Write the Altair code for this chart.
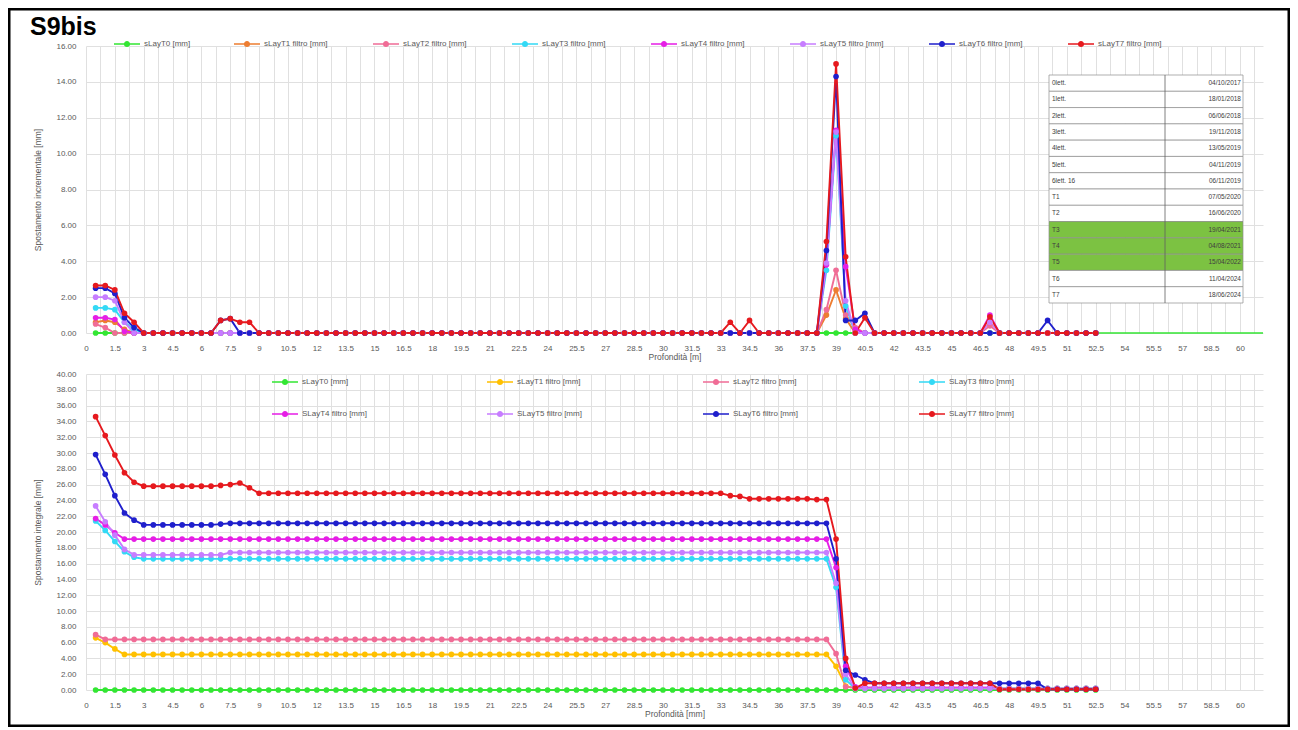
import altair as alt
import pandas as pd

# ---------------- data ----------------
DEPTH = [round(0.5 * i, 1) for i in range(1, 106)]  # 0.5 ... 52.5 m

TOP_NAMES = ["sLayT0 [mm]", "sLayT1 filtro  [mm]", "sLayT2 filtro  [mm]", "sLayT3 filtro  [mm]",
             "sLayT4 filtro  [mm]", "sLayT5 filtro  [mm]", "sLayT6 filtro  [mm]", "sLayT7 filtro  [mm]"]
BOT_NAMES = ["sLayT0 [mm]", "sLayT1 filtro  [mm]", "sLayT2 filtro  [mm]", "SLayT3 filtro [mm]",
             "SLayT4 filtro [mm]", "SLayT5 filtro [mm]", "SLayT6 filtro [mm]", "SLayT7 filtro [mm]"]
TOP_COLORS = ["#33e633", "#ed7d31", "#f06c96", "#33d9f5", "#e61ee6", "#c77dff", "#1f1fcc", "#e6191e"]
BOT_COLORS = ["#33e633", "#ffc000", "#f06c96", "#33d9f5", "#e61ee6", "#c77dff", "#1f1fcc", "#e6191e"]

# incremental displacement (top chart), 15 values per line = 7.5 m
INC_T0 = [
    0, 0, 0, 0, 0, 0, 0, 0, 0, 0, 0, 0, 0, 0, 0,
    0, 0, 0, 0, 0, 0, 0, 0, 0, 0, 0, 0, 0, 0, 0,
    0, 0, 0, 0, 0, 0, 0, 0, 0, 0, 0, 0, 0, 0, 0,
    0, 0, 0, 0, 0, 0, 0, 0, 0, 0, 0, 0, 0, 0, 0,
    0, 0, 0, 0, 0, 0, 0, 0, 0, 0, 0, 0, 0, 0, 0,
    0, 0, 0, 0, 0, 0, 0, 0, 0, 0, 0, 0, 0, 0, 0,
    0, 0, 0, 0, 0, 0, 0, 0, 0, 0, 0, 0, 0, 0, 0]
INC_T1 = [
    0.6, 0.7, 0.6, 0.2, 0, 0, 0, 0, 0, 0, 0, 0, 0, 0, 0,
    0, 0, 0, 0, 0, 0, 0, 0, 0, 0, 0, 0, 0, 0, 0,
    0, 0, 0, 0, 0, 0, 0, 0, 0, 0, 0, 0, 0, 0, 0,
    0, 0, 0, 0, 0, 0, 0, 0, 0, 0, 0, 0, 0, 0, 0,
    0, 0, 0, 0, 0, 0, 0, 0, 0, 0, 0, 0, 0, 0, 0,
    0, 1.0, 2.4, 0.8, 0, 0, 0, 0, 0, 0, 0, 0, 0, 0, 0,
    0, 0, 0, 0, 0, 0, 0, 0, 0, 0, 0, 0, 0, 0, 0]
INC_T2 = [
    0.5, 0.3, 0, 0, 0, 0, 0, 0, 0, 0, 0, 0, 0, 0, 0,
    0, 0, 0, 0, 0, 0, 0, 0, 0, 0, 0, 0, 0, 0, 0,
    0, 0, 0, 0, 0, 0, 0, 0, 0, 0, 0, 0, 0, 0, 0,
    0, 0, 0, 0, 0, 0, 0, 0, 0, 0, 0, 0, 0, 0, 0,
    0, 0, 0, 0, 0, 0, 0, 0, 0, 0, 0, 0, 0, 0, 0,
    0, 1.3, 3.5, 1.0, 0.3, 0, 0, 0, 0, 0, 0, 0, 0, 0, 0,
    0, 0, 0, 0.4, 0, 0, 0, 0, 0, 0, 0, 0, 0, 0, 0]
INC_T3 = [
    1.4, 1.4, 1.3, 0.6, 0.2, 0, 0, 0, 0, 0, 0, 0, 0, 0, 0,
    0, 0, 0, 0, 0, 0, 0, 0, 0, 0, 0, 0, 0, 0, 0,
    0, 0, 0, 0, 0, 0, 0, 0, 0, 0, 0, 0, 0, 0, 0,
    0, 0, 0, 0, 0, 0, 0, 0, 0, 0, 0, 0, 0, 0, 0,
    0, 0, 0, 0, 0, 0, 0, 0, 0, 0, 0, 0, 0, 0, 0,
    0, 3.5, 11.0, 1.5, 0, 0, 0, 0, 0, 0, 0, 0, 0, 0, 0,
    0, 0, 0, 0, 0, 0, 0, 0, 0, 0, 0, 0, 0, 0, 0]
INC_T4 = [
    0.85, 0.85, 0.75, 0.1, 0, 0, 0, 0, 0, 0, 0, 0, 0, 0, 0,
    0, 0, 0, 0, 0, 0, 0, 0, 0, 0, 0, 0, 0, 0, 0,
    0, 0, 0, 0, 0, 0, 0, 0, 0, 0, 0, 0, 0, 0, 0,
    0, 0, 0, 0, 0, 0, 0, 0, 0, 0, 0, 0, 0, 0, 0,
    0, 0, 0, 0, 0, 0, 0, 0, 0, 0, 0, 0, 0, 0, 0,
    0, 3.8, 11.3, 3.7, 0.2, 0, 0, 0, 0, 0, 0, 0, 0, 0, 0,
    0, 0, 0, 1.0, 0, 0, 0, 0, 0, 0, 0, 0, 0, 0, 0]
INC_T5 = [
    2.0, 2.0, 1.8, 0.6, 0, 0, 0, 0, 0, 0, 0, 0, 0, 0, 0,
    0, 0, 0, 0, 0, 0, 0, 0, 0, 0, 0, 0, 0, 0, 0,
    0, 0, 0, 0, 0, 0, 0, 0, 0, 0, 0, 0, 0, 0, 0,
    0, 0, 0, 0, 0, 0, 0, 0, 0, 0, 0, 0, 0, 0, 0,
    0, 0, 0, 0, 0, 0, 0, 0, 0, 0, 0, 0, 0, 0, 0,
    0, 3.9, 11.2, 1.8, 0, 0, 0, 0, 0, 0, 0, 0, 0, 0, 0,
    0, 0, 0, 0.6, 0, 0, 0, 0, 0, 0, 0, 0, 0, 0, 0]
INC_T6 = [
    2.5, 2.5, 2.2, 0.85, 0.3, 0, 0, 0, 0, 0, 0, 0, 0, 0.7, 0.8,
    0, 0, 0, 0, 0, 0, 0, 0, 0, 0, 0, 0, 0, 0, 0,
    0, 0, 0, 0, 0, 0, 0, 0, 0, 0, 0, 0, 0, 0, 0,
    0, 0, 0, 0, 0, 0, 0, 0, 0, 0, 0, 0, 0, 0, 0,
    0, 0, 0, 0, 0, 0, 0, 0, 0, 0, 0, 0, 0, 0, 0,
    0, 4.6, 14.3, 0.7, 0.7, 1.1, 0, 0, 0, 0, 0, 0, 0, 0, 0,
    0, 0, 0, 0, 0, 0, 0, 0, 0, 0.7, 0, 0, 0, 0, 0]
INC_T7 = [
    2.65, 2.65, 2.4, 1.1, 0.6, 0, 0, 0, 0, 0, 0, 0, 0, 0.7, 0.8,
    0.6, 0.6, 0, 0, 0, 0, 0, 0, 0, 0, 0, 0, 0, 0, 0,
    0, 0, 0, 0, 0, 0, 0, 0, 0, 0, 0, 0, 0, 0, 0,
    0, 0, 0, 0, 0, 0, 0, 0, 0, 0, 0, 0, 0, 0, 0,
    0, 0, 0, 0, 0, 0, 0.6, 0, 0.7, 0, 0, 0, 0, 0, 0,
    0, 5.1, 15.0, 4.25, 0, 0.85, 0, 0, 0, 0, 0, 0, 0, 0, 0,
    0, 0, 0, 0.9, 0, 0, 0, 0, 0, 0, 0, 0, 0, 0, 0]

# T0 line continues (without markers) to the right edge of the top chart
T0_TAIL_DEPTH = [52.5, 61.2]
T0_TAIL_VALUE = [0, 0]

# integral displacement (bottom chart)
INT_T0 = INC_T0
INT_T1 = [
    6.6, 6.0, 5.2, 4.5, 4.5, 4.5, 4.5, 4.5, 4.5, 4.5, 4.5, 4.5, 4.5, 4.5, 4.5,
    4.5, 4.5, 4.5, 4.5, 4.5, 4.5, 4.5, 4.5, 4.5, 4.5, 4.5, 4.5, 4.5, 4.5, 4.5,
    4.5, 4.5, 4.5, 4.5, 4.5, 4.5, 4.5, 4.5, 4.5, 4.5, 4.5, 4.5, 4.5, 4.5, 4.5,
    4.5, 4.5, 4.5, 4.5, 4.5, 4.5, 4.5, 4.5, 4.5, 4.5, 4.5, 4.5, 4.5, 4.5, 4.5,
    4.5, 4.5, 4.5, 4.5, 4.5, 4.5, 4.5, 4.5, 4.5, 4.5, 4.5, 4.5, 4.5, 4.5, 4.5,
    4.5, 4.5, 3.0, 0.5, 0.2, 0.2, 0.2, 0.2, 0.2, 0.2, 0.2, 0.2, 0.2, 0.2, 0.2,
    0.2, 0.2, 0.2, 0.2, 0.2, 0.2, 0.2, 0.2, 0.2, 0.2, 0.2, 0.2, 0.2, 0.2, 0.2]
INT_T2 = [
    7.0, 6.4, 6.4, 6.4, 6.4, 6.4, 6.4, 6.4, 6.4, 6.4, 6.4, 6.4, 6.4, 6.4, 6.4,
    6.4, 6.4, 6.4, 6.4, 6.4, 6.4, 6.4, 6.4, 6.4, 6.4, 6.4, 6.4, 6.4, 6.4, 6.4,
    6.4, 6.4, 6.4, 6.4, 6.4, 6.4, 6.4, 6.4, 6.4, 6.4, 6.4, 6.4, 6.4, 6.4, 6.4,
    6.4, 6.4, 6.4, 6.4, 6.4, 6.4, 6.4, 6.4, 6.4, 6.4, 6.4, 6.4, 6.4, 6.4, 6.4,
    6.4, 6.4, 6.4, 6.4, 6.4, 6.4, 6.4, 6.4, 6.4, 6.4, 6.4, 6.4, 6.4, 6.4, 6.4,
    6.4, 6.4, 4.6, 0.4, 0.3, 0.3, 0.3, 0.3, 0.3, 0.3, 0.3, 0.3, 0.3, 0.3, 0.3,
    0.3, 0.3, 0.3, 0.3, 0.1, 0.1, 0.1, 0.1, 0.1, 0.1, 0.1, 0.1, 0.1, 0.1, 0.1]
INT_T3 = [
    21.4, 20.2, 18.8, 17.5, 16.8, 16.6, 16.6, 16.6, 16.6, 16.6, 16.6, 16.6, 16.6, 16.6, 16.6,
    16.6, 16.6, 16.6, 16.6, 16.6, 16.6, 16.6, 16.6, 16.6, 16.6, 16.6, 16.6, 16.6, 16.6, 16.6,
    16.6, 16.6, 16.6, 16.6, 16.6, 16.6, 16.6, 16.6, 16.6, 16.6, 16.6, 16.6, 16.6, 16.6, 16.6,
    16.6, 16.6, 16.6, 16.6, 16.6, 16.6, 16.6, 16.6, 16.6, 16.6, 16.6, 16.6, 16.6, 16.6, 16.6,
    16.6, 16.6, 16.6, 16.6, 16.6, 16.6, 16.6, 16.6, 16.6, 16.6, 16.6, 16.6, 16.6, 16.6, 16.6,
    16.6, 16.6, 13.0, 1.3, 0.2, 0.2, 0.2, 0.2, 0.2, 0.2, 0.2, 0.2, 0.2, 0.2, 0.2,
    0.2, 0.2, 0.2, 0.2, 0.2, 0.2, 0.2, 0.2, 0.2, 0.2, 0.2, 0.2, 0.2, 0.2, 0.2]
INT_T4 = [
    21.7, 20.9, 19.9, 19.1, 19.1, 19.1, 19.1, 19.1, 19.1, 19.1, 19.1, 19.1, 19.1, 19.1, 19.1,
    19.1, 19.1, 19.1, 19.1, 19.1, 19.1, 19.1, 19.1, 19.1, 19.1, 19.1, 19.1, 19.1, 19.1, 19.1,
    19.1, 19.1, 19.1, 19.1, 19.1, 19.1, 19.1, 19.1, 19.1, 19.1, 19.1, 19.1, 19.1, 19.1, 19.1,
    19.1, 19.1, 19.1, 19.1, 19.1, 19.1, 19.1, 19.1, 19.1, 19.1, 19.1, 19.1, 19.1, 19.1, 19.1,
    19.1, 19.1, 19.1, 19.1, 19.1, 19.1, 19.1, 19.1, 19.1, 19.1, 19.1, 19.1, 19.1, 19.1, 19.1,
    19.1, 19.1, 15.5, 3.0, 0.4, 0.3, 0.3, 0.3, 0.3, 0.3, 0.3, 0.3, 0.3, 0.3, 0.3,
    0.3, 0.3, 0.3, 0.3, 0.1, 0.1, 0.1, 0.1, 0.1, 0.1, 0.1, 0.1, 0.1, 0.1, 0.1]
INT_T5 = [
    23.3, 21.3, 19.6, 17.8, 17.1, 17.1, 17.1, 17.1, 17.1, 17.1, 17.1, 17.1, 17.1, 17.1, 17.4,
    17.4, 17.4, 17.4, 17.4, 17.4, 17.4, 17.4, 17.4, 17.4, 17.4, 17.4, 17.4, 17.4, 17.4, 17.4,
    17.4, 17.4, 17.4, 17.4, 17.4, 17.4, 17.4, 17.4, 17.4, 17.4, 17.4, 17.4, 17.4, 17.4, 17.4,
    17.4, 17.4, 17.4, 17.4, 17.4, 17.4, 17.4, 17.4, 17.4, 17.4, 17.4, 17.4, 17.4, 17.4, 17.4,
    17.4, 17.4, 17.4, 17.4, 17.4, 17.4, 17.4, 17.4, 17.4, 17.4, 17.4, 17.4, 17.4, 17.4, 17.4,
    17.4, 17.4, 13.5, 2.0, 0.2, 0.2, 0.2, 0.2, 0.2, 0.2, 0.2, 0.2, 0.2, 0.2, 0.2,
    0.2, 0.2, 0.2, 0.2, 0.2, 0.2, 0.2, 0.2, 0.2, 0.2, 0.2, 0.2, 0.2, 0.2, 0.2]
INT_T6 = [
    29.8, 27.3, 24.6, 22.4, 21.5, 20.9, 20.9, 20.9, 20.9, 20.9, 20.9, 20.9, 20.9, 21.0, 21.1,
    21.1, 21.1, 21.1, 21.1, 21.1, 21.1, 21.1, 21.1, 21.1, 21.1, 21.1, 21.1, 21.1, 21.1, 21.1,
    21.1, 21.1, 21.1, 21.1, 21.1, 21.1, 21.1, 21.1, 21.1, 21.1, 21.1, 21.1, 21.1, 21.1, 21.1,
    21.1, 21.1, 21.1, 21.1, 21.1, 21.1, 21.1, 21.1, 21.1, 21.1, 21.1, 21.1, 21.1, 21.1, 21.1,
    21.1, 21.1, 21.1, 21.1, 21.1, 21.1, 21.1, 21.1, 21.1, 21.1, 21.1, 21.1, 21.1, 21.1, 21.1,
    21.1, 21.1, 16.6, 2.5, 1.9, 1.3, 0.85, 0.85, 0.85, 0.85, 0.85, 0.85, 0.85, 0.85, 0.85,
    0.85, 0.85, 0.85, 0.85, 0.85, 0.85, 0.85, 0.85, 0.85, 0.1, 0.1, 0.1, 0.1, 0.1, 0.1]
INT_T7 = [
    34.6, 32.2, 29.75, 27.5, 26.3, 25.8, 25.8, 25.8, 25.8, 25.8, 25.8, 25.8, 25.8, 25.9, 26.0,
    26.2, 25.6, 24.9, 24.9, 24.9, 24.9, 24.9, 24.9, 24.9, 24.9, 24.9, 24.9, 24.9, 24.9, 24.9,
    24.9, 24.9, 24.9, 24.9, 24.9, 24.9, 24.9, 24.9, 24.9, 24.9, 24.9, 24.9, 24.9, 24.9, 24.9,
    24.9, 24.9, 24.9, 24.9, 24.9, 24.9, 24.9, 24.9, 24.9, 24.9, 24.9, 24.9, 24.9, 24.9, 24.9,
    24.9, 24.9, 24.9, 24.9, 24.9, 24.9, 24.6, 24.5, 24.2, 24.2, 24.2, 24.2, 24.2, 24.2, 24.2,
    24.1, 24.1, 19.1, 4.0, 0.25, 0.85, 0.85, 0.85, 0.85, 0.85, 0.85, 0.85, 0.85, 0.85, 0.85,
    0.85, 0.85, 0.85, 0.85, 0.1, 0.1, 0.1, 0.1, 0.1, 0.1, 0.1, 0.1, 0.1, 0.1, 0.1]

TABLE_LABELS = ["0lett.", "1lett.", "2lett.", "3lett.", "4lett.", "5lett.", "6lett. 16",
                "T1", "T2", "T3", "T4", "T5", "T6", "T7"]
TABLE_DATES = ["04/10/2017", "18/01/2018", "06/06/2018", "19/11/2018", "13/05/2019", "04/11/2019",
               "06/11/2019", "07/05/2020", "16/06/2020", "19/04/2021", "04/08/2021", "15/04/2022",
               "11/04/2024", "18/06/2024"]
TABLE_HIGHLIGHT = [False, False, False, False, False, False, False, False, False,
                   True, True, True, False, False]

Y_TOP_TICKS = [0, 2, 4, 6, 8, 10, 12, 14, 16]
Y_BOT_TICKS = [0, 2, 4, 6, 8, 10, 12, 14, 16, 18, 20, 22, 24, 26, 28, 30, 32, 34, 36, 38, 40]
X_GRID = [0.75 * k for k in range(0, 82)]  # grid every 0.75 m, labels every 1.5 m

INC = [INC_T0, INC_T1, INC_T2, INC_T3, INC_T4, INC_T5, INC_T6, INC_T7]
INT = [INT_T0, INT_T1, INT_T2, INT_T3, INT_T4, INT_T5, INT_T6, INT_T7]


def long_df(names, series):
    rows = []
    for k, (nm, vals) in enumerate(zip(names, series)):
        for d, v in zip(DEPTH, vals):
            rows.append({"depth": d, "val": v, "series": nm, "k": k})
    return pd.DataFrame(rows)


df_top = long_df(TOP_NAMES, INC)
df_bot = long_df(BOT_NAMES, INT)
df_tail = pd.DataFrame({"depth": T0_TAIL_DEPTH, "val": T0_TAIL_VALUE})
df_tab = pd.DataFrame({"row": list(range(len(TABLE_LABELS))), "lab": TABLE_LABELS,
                       "date": TABLE_DATES, "hl": TABLE_HIGHLIGHT})
df_one = pd.DataFrame({"one": [1]})

# ---------------- styling ----------------
FONT = "Liberation Sans"
GREY = "#595959"
PLOT_W = 1177
TOP_H = 287
BOT_H = 316
GAP = 41
SYMBOL = "M-1,-0.065H1V0.065H-1Z M0.24,0A0.24,0.24 0 1,1 -0.24,0A0.24,0.24 0 1,1 0.24,0Z"
X_DOMAIN = [0, 61.2]


def x_axis(title):
    return alt.Axis(values=X_GRID, labelExpr="datum.value % 1.5 === 0 ? format(datum.value, '~g') : ''",
                    title=title, grid=True, ticks=False, domain=False, labelOverlap=False,
                    labelPadding=11, titlePadding=0, labelFlush=False)


def y_axis(title, ticks):
    return alt.Axis(values=ticks, format=".2f", title=title, grid=True, ticks=False, domain=False,
                    labelPadding=10, titlePadding=13)


def legend(cols, col_pad, row_pad, lx, ly):
    return alt.Legend(title=None, orient="none", legendX=lx, legendY=ly, direction="horizontal",
                      columns=cols, columnPadding=col_pad, rowPadding=row_pad, symbolType=SYMBOL,
                      symbolSize=676, symbolStrokeWidth=0, symbolOpacity=1, labelOffset=4,
                      labelFontSize=8, labelColor=GREY, labelFont=FONT, labelLimit=200)


def series_layers(df, names, colors, ydom, yticks, ytitle, xtitle, leg):
    x = alt.X("depth:Q", scale=alt.Scale(domain=X_DOMAIN, nice=False, zero=False), axis=x_axis(xtitle))
    y = alt.Y("val:Q", scale=alt.Scale(domain=ydom, nice=False), axis=y_axis(ytitle, yticks))
    cscale = alt.Scale(domain=names, range=colors)
    lines = alt.Chart(df).mark_line(strokeWidth=1.9).encode(
        x=x, y=y, color=alt.Color("series:N", scale=cscale, legend=leg), order=alt.Order("depth:Q"))
    pts = alt.Chart(df).mark_point(filled=True, size=32, opacity=1, strokeWidth=0).encode(
        x=x, y=y, color=alt.Color("series:N", scale=cscale, legend=leg), order=alt.Order("k:Q"))
    return x, y, lines, pts


# ---------------- top chart ----------------
xt, yt, lines_t, pts_t = series_layers(df_top, TOP_NAMES, TOP_COLORS, [0, 16], Y_TOP_TICKS,
                                       "Spostamento incrementale [mm]", "Profondità [m]",
                                       legend(8, 43, 0, 28, -15))
tail = alt.Chart(df_tail).mark_line(strokeWidth=1.5, color=TOP_COLORS[0]).encode(x=xt, y=yt)
main_top = alt.layer(tail, lines_t, pts_t)

row_y = alt.Y("row:O", scale=alt.Scale(range=[29, 257], paddingInner=0, paddingOuter=0), axis=None)
tab_rect = alt.Chart(df_tab).mark_rect(stroke="#8c8c8c", strokeWidth=0.7).encode(
    y=row_y, x=alt.value(963), x2=alt.value(1157),
    fill=alt.condition("datum.hl", alt.value("#7cc242"), alt.value("white")))
tab_div = alt.Chart(df_one).mark_rule(color="#606060", strokeWidth=0.8).encode(
    x=alt.value(1079), y=alt.value(29), y2=alt.value(257))
tab_lab = alt.Chart(df_tab).mark_text(align="left", baseline="middle", fontSize=6.5, font=FONT,
                                      color="#404040").encode(y=row_y, x=alt.value(966), text="lab:N")
tab_date = alt.Chart(df_tab).mark_text(align="right", baseline="middle", fontSize=6.5, font=FONT,
                                       color="#404040").encode(y=row_y, x=alt.value(1155), text="date:N")
table = alt.layer(tab_rect, tab_div, tab_lab, tab_date)

top = alt.layer(main_top, table).resolve_scale(y="independent").properties(
    width=PLOT_W, height=TOP_H,
    title=alt.TitleParams("S9bis", anchor="start", frame="group", fontSize=25, font=FONT,
                          fontWeight="bold", color="black", offset=-9, dx=-56))

# ---------------- bottom chart ----------------
xb, yb, lines_b, pts_b = series_layers(df_bot, BOT_NAMES, BOT_COLORS, [0, 40], Y_BOT_TICKS,
                                       "Spostamento integrale [mm]", "Profondità [mm]",
                                       legend(4, 120, 15, 186, -5))
# black picture frame around the whole figure (drawn from the lower panel, relative to its plot area)
frame = alt.Chart(df_one).mark_rect(fill="transparent", stroke="black", strokeWidth=2.5).encode(
    x=alt.value(-76.75), x2=alt.value(1202.75),
    y=alt.value(-(TOP_H + GAP) - 38 + 1.25), y2=alt.value(351.75))
bottom = alt.layer(lines_b, pts_b, frame).properties(width=PLOT_W, height=BOT_H)

chart = alt.vconcat(top, bottom, spacing=GAP, bounds="flush").resolve_scale(color="independent").properties(
    padding=0, background="white"
).configure_view(stroke=None).configure_axis(
    labelFont=FONT, labelFontSize=8, labelColor=GREY, titleFont=FONT, titleFontSize=8.5,
    titleFontWeight="normal", titleColor=GREY, gridColor="#e0e0e0", gridWidth=1)

chart.save("out.html", embed_options={"renderer": "svg", "actions": False})
